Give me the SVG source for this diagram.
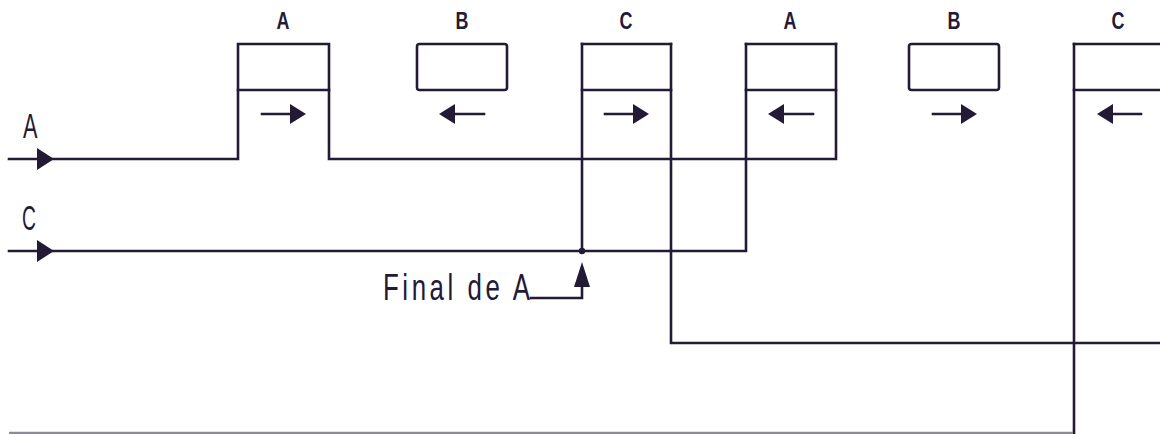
<svg xmlns="http://www.w3.org/2000/svg" width="1160" height="434" viewBox="0 0 1160 434">
<style>
.ln{fill:none;stroke:#231a36;stroke-width:2.6;stroke-linecap:square;stroke-linejoin:miter}
.bx{fill:none;stroke:#231a36;stroke-width:2.6}
.hd{fill:#231a36;stroke:none}
.lb{font-family:"Liberation Sans",Arial,sans-serif;font-weight:bold;font-size:23px;fill:#231a36;text-anchor:middle}
.ll{font-family:"Liberation Sans",Arial,sans-serif;font-size:35px;fill:#231a36}
.fa{font-family:"Liberation Sans",Arial,sans-serif;font-size:37px;fill:#231a36}
</style>
<rect width="1160" height="434" fill="#ffffff"/>

<g id="connectors">
  <path class="ln" d="M9,159 H238 V44 H329 V159 H836 V44"/>
  <path class="ln" d="M9,251 H746 V44"/>
  <path class="ln" d="M582,44 V251"/>
  <circle cx="582" cy="251" r="3.2" class="hd"/>
  <path class="ln" d="M671,44 V343 H1160"/>
  <path class="ln" d="M1074,44 V434"/>
  <path d="M9,433 H1073" fill="none" stroke="#8e8a96" stroke-width="2.4"/>
  <path class="hd" d="M54,159 L37,148 L37,170 Z"/>
  <path class="hd" d="M54,251 L37,240 L37,262 Z"/>
  <path class="ln" d="M531,298 H582 V284"/>
  <path class="hd" d="M582,262 L574,287 L590,287 Z"/>
</g>

<g id="label-A-in"><text class="ll" transform="translate(23,138) scale(0.62,1)">A</text></g>
<g id="label-C-in"><text class="ll" transform="translate(22,230) scale(0.55,1)">C</text></g>
<g id="label-final"><text class="fa" transform="translate(383,300) scale(0.7,1)" textLength="210" lengthAdjust="spacing">Final de A</text></g>

<g id="node-A1">
  <text class="lb" transform="translate(283,29) scale(0.78,1)">A</text>
  <path class="ln" d="M238,90 H329"/>
  <path class="ln" d="M262,114 H292"/>
  <path class="hd" d="M306,114 L290,104 L290,124 Z"/>
</g>

<g id="node-B1">
  <text class="lb" transform="translate(462,29) scale(0.78,1)">B</text>
  <rect class="bx" x="417" y="44" width="90" height="46" rx="2.5"/>
  <path class="ln" d="M452,114 H484"/>
  <path class="hd" d="M439,114 L455,104 L455,124 Z"/>
</g>

<g id="node-C1">
  <text class="lb" transform="translate(626,29) scale(0.78,1)">C</text>
  <path class="ln" d="M582,44 H671 M582,90 H671"/>
  <path class="ln" d="M605,114 H635"/>
  <path class="hd" d="M649,114 L633,104 L633,124 Z"/>
</g>

<g id="node-A2">
  <text class="lb" transform="translate(790,29) scale(0.78,1)">A</text>
  <path class="ln" d="M746,44 H836 M746,90 H836"/>
  <path class="ln" d="M781,114 H813"/>
  <path class="hd" d="M768,114 L784,104 L784,124 Z"/>
</g>

<g id="node-B2">
  <text class="lb" transform="translate(954,29) scale(0.78,1)">B</text>
  <rect class="bx" x="909" y="44" width="90" height="46" rx="2.5"/>
  <path class="ln" d="M933,114 H963"/>
  <path class="hd" d="M977,114 L961,104 L961,124 Z"/>
</g>

<g id="node-C2">
  <text class="lb" transform="translate(1118,29) scale(0.78,1)">C</text>
  <path class="ln" d="M1074,44 H1160 M1074,90 H1160"/>
  <path class="ln" d="M1110,114 H1141"/>
  <path class="hd" d="M1097,114 L1113,104 L1113,124 Z"/>
</g>
</svg>
